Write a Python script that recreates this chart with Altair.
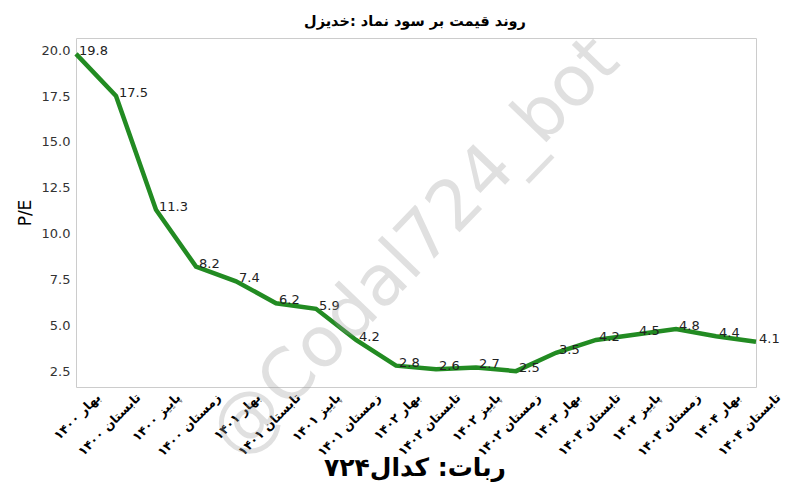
import altair as alt
import pandas as pd

seasons = [
    "بهار ۱۴۰۰", "تابستان ۱۴۰۰", "پاییز ۱۴۰۰", "زمستان ۱۴۰۰",
    "بهار ۱۴۰۱", "تابستان ۱۴۰۱", "پاییز ۱۴۰۱", "زمستان ۱۴۰۱",
    "بهار ۱۴۰۲", "تابستان ۱۴۰۲", "پاییز ۱۴۰۲", "زمستان ۱۴۰۲",
    "بهار ۱۴۰۳", "تابستان ۱۴۰۳", "پاییز ۱۴۰۳", "زمستان ۱۴۰۳",
    "بهار ۱۴۰۴", "تابستان ۱۴۰۴",
]
pe = [19.8, 17.5, 11.3, 8.2, 7.4, 6.2, 5.9, 4.2, 2.8, 2.6, 2.7, 2.5,
      3.5, 4.2, 4.5, 4.8, 4.4, 4.1]
y_ticks = [2.5, 5.0, 7.5, 10.0, 12.5, 15.0, 17.5, 20.0]

title_text = "روند قیمت بر سود نماد :خدیزل"
footer_text = "ربات: کدال۷۲۴"
watermark_text = "@Codal724_bot"

df = pd.DataFrame({"season": seasons, "pe": pe,
                   "lbl": [f"{v:.1f}" for v in pe]})

W, H = 680, 349
FONT = "DejaVu Sans"

x = alt.X("season:N", sort=seasons,
          scale=alt.Scale(type="point", padding=0),
          axis=alt.Axis(title=None, labelAngle=315, labelAlign="right",
                        labelBaseline="middle", labelFont=FONT,
                        labelFontWeight="bold", labelFontSize=12.5,
                        labelColor="black", labelPadding=8, labelOffset=22,
                        ticks=False, domain=False, grid=False))
y = alt.Y("pe:Q",
          scale=alt.Scale(domain=[1.635, 20.665], nice=False, zero=False),
          axis=alt.Axis(values=y_ticks, format=".1f", title="P/E",
                        titleFont=FONT, titleFontSize=17,
                        titleFontWeight="normal", titleColor="black",
                        titleAngle=270, titleX=-51, titleY=H / 2,
                        titleAlign="center", titleBaseline="middle",
                        labelFont=FONT, labelFontSize=13, labelColor="#333333",
                        labelPadding=6, ticks=False, domain=False, grid=False))

base = alt.Chart(df)
line = base.mark_line(color="forestgreen", strokeWidth=4.5).encode(x=x, y=y)
labels = base.mark_text(align="left", baseline="middle", dx=3, dy=-3,
                        fontSize=13, font=FONT, color="#222222").encode(
    x=x, y=y, text="lbl:N")

def note(text, xv, yv, **kw):
    return alt.Chart(pd.DataFrame({"t": [text]})).mark_text(**kw).encode(
        x=alt.value(xv), y=alt.value(yv), text="t:N")

title = note(title_text, 339, -16, font=FONT, fontSize=14.5, fontWeight="bold",
             color="black", align="center", baseline="middle")
footer = note(footer_text, 339, 430, font=FONT, fontSize=25,
              fontWeight="bold", color="black", align="center",
              baseline="middle")
wm = note(watermark_text, 339, 210, font=FONT, fontSize=70, angle=314,
          color="#9a9a9a", opacity=0.3, align="center", baseline="middle")

chart = alt.layer(line, labels, wm, title, footer).properties(
    width=W, height=H,
    autosize=alt.AutoSizeParams(type="none"),
    padding={"left": 68, "top": 30, "right": 36, "bottom": 105},
).configure_view(stroke="#cccccc", strokeWidth=1)

chart.save("out.html", embed_options={"renderer": "svg", "actions": False})
